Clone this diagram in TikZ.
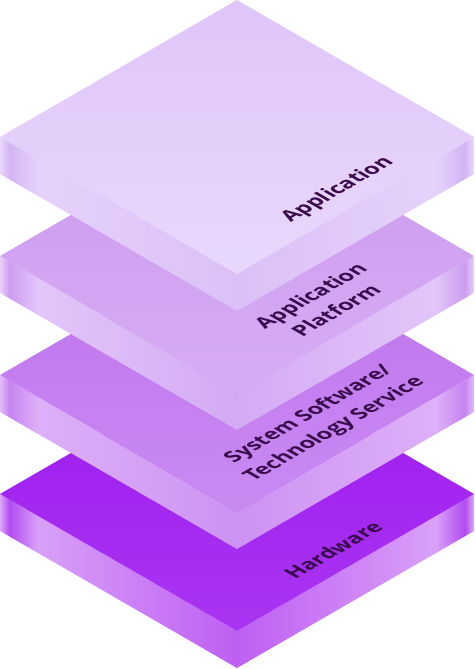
\documentclass[tikz,border=0pt]{standalone}
\usepackage{fontspec}
\setmainfont{Open Sans}
% slab 1 (Application)
\definecolor{t1a}{HTML}{DFC5F9}\definecolor{t1b}{HTML}{E9D8FC}
\definecolor{s1e}{HTML}{E9D8FC}\definecolor{s1d}{HTML}{D3B4F3}\definecolor{s1l}{HTML}{E6D2FB}\definecolor{s1c}{HTML}{DAC0F7}
% slab 2 (Application Platform)
\definecolor{t2a}{HTML}{CC98EF}\definecolor{t2b}{HTML}{D6ADF3}
\definecolor{s2e}{HTML}{E8D0FA}\definecolor{s2d}{HTML}{CC9CF1}\definecolor{s2l}{HTML}{E2C6F9}\definecolor{s2c}{HTML}{D4AAF4}
% slab 3 (System Software)
\definecolor{t3a}{HTML}{BE72EE}\definecolor{t3b}{HTML}{C98AF1}
\definecolor{s3e}{HTML}{E2BCF9}\definecolor{s3d}{HTML}{C683F1}\definecolor{s3l}{HTML}{DDB0F8}\definecolor{s3c}{HTML}{CD92F3}
% slab 4 (Hardware)
\definecolor{t4a}{HTML}{9C18EF}\definecolor{t4b}{HTML}{A935F1}
\definecolor{s4e}{HTML}{DDA8F8}\definecolor{s4d}{HTML}{B14AF0}\definecolor{s4l}{HTML}{D9A0F8}\definecolor{s4c}{HTML}{BE5FF3}
\definecolor{txt}{HTML}{3A0B4C}
\pgfdeclarehorizontalshading{side1}{100bp}{color(0bp)=(s1e); color(25bp)=(s1e); color(26bp)=(s1d); color(29bp)=(s1l); color(50bp)=(s1c); color(71bp)=(s1l); color(74bp)=(s1d); color(75bp)=(s1e); color(100bp)=(s1e)}
\pgfdeclarehorizontalshading{side2}{100bp}{color(0bp)=(s2e); color(25bp)=(s2e); color(26bp)=(s2d); color(29bp)=(s2l); color(50bp)=(s2c); color(71bp)=(s2l); color(74bp)=(s2d); color(75bp)=(s2e); color(100bp)=(s2e)}
\pgfdeclarehorizontalshading{side3}{100bp}{color(0bp)=(s3e); color(25bp)=(s3e); color(26bp)=(s3d); color(29bp)=(s3l); color(50bp)=(s3c); color(71bp)=(s3l); color(74bp)=(s3d); color(75bp)=(s3e); color(100bp)=(s3e)}
\pgfdeclarehorizontalshading{side4}{100bp}{color(0bp)=(s4e); color(25bp)=(s4e); color(26bp)=(s4d); color(29bp)=(s4l); color(50bp)=(s4c); color(71bp)=(s4l); color(74bp)=(s4d); color(75bp)=(s4e); color(100bp)=(s4e)}
\newcommand\drawslab[4]{%
  \shade[shading=#4] (0,-137-#1) -- (237,-274-#1) -- (474,-137-#1) -- (474,-174-#1) -- (237,-311-#1) -- (0,-174-#1) -- cycle;
  \shade[top color=#2, bottom color=#3] (237,-#1) -- (474,-137-#1) -- (237,-274-#1) -- (0,-137-#1) -- cycle;
}
\tikzset{
  lbl/.style={text=txt, font=\fontsize{21}{29.5}\selectfont\bfseries, align=center, inner sep=0pt,
    cm={0.866,0.5,-0.866,0.5,(0,0)}}
}
\begin{document}
\begin{tikzpicture}[x=1pt,y=1pt]
\useasboundingbox (0,0) rectangle (474,-669);
\drawslab{357}{t4a}{t4b}{side4}
\drawslab{238}{t3a}{t3b}{side3}
\drawslab{119}{t2a}{t2b}{side2}
\drawslab{0}{t1a}{t1b}{side1}
\node[lbl] (app) at (338,-190) {Application};
\node[lbl] (plat) at (323,-303) {Application\\Platform};
\node[lbl] (sys) at (322,-422) {System Software/\\Technology Service};
\node[lbl] (hw) at (333,-550) {Hardware};
\end{tikzpicture}
\end{document}
